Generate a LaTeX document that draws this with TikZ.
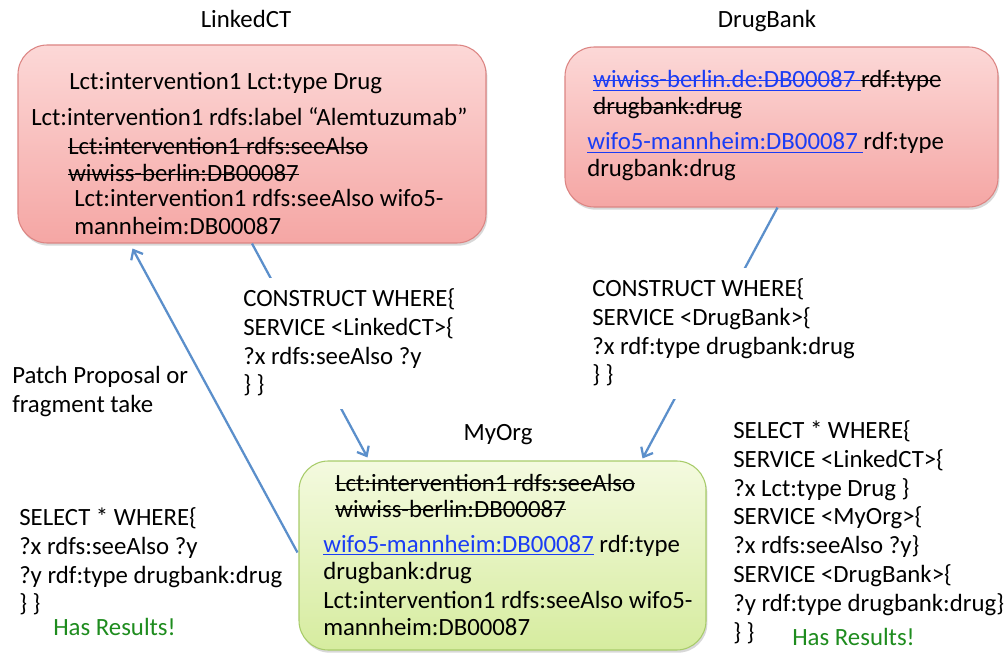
\documentclass[tikz,border=0pt]{standalone}
\usepackage{fontspec}
\setmainfont{Carlito}
\usetikzlibrary{arrows.meta,shadows,calc}
\definecolor{redtop}{HTML}{FCD8D7}
\definecolor{redbot}{HTML}{F5A6A4}
\definecolor{redborder}{HTML}{DC8583}
\definecolor{greentop}{HTML}{F4FADF}
\definecolor{greenbot}{HTML}{D6EC9F}
\definecolor{greenborder}{HTML}{A8CC6A}
\definecolor{arrowblue}{HTML}{5B8FCB}
\definecolor{linkblue}{HTML}{1A3CF5}
\definecolor{okgreen}{HTML}{1E8C1E}
\newsavebox\strkbox
\newsavebox\ulbox
\newcommand\strk[1]{\sbox\strkbox{#1}\rlap{\rule[0.27em]{\wd\strkbox}{1.1pt}}\usebox\strkbox}
\newcommand\ulnk[1]{\sbox\ulbox{#1}\rlap{\rule[-0.14em]{\wd\ulbox}{0.9pt}}\usebox\ulbox}
\newcommand\fs{\fontsize{18.6}{21.6}\selectfont}
\begin{document}
\begin{tikzpicture}[x=0.75pt,y=-0.75pt,
  redbox/.style={draw=redborder, line width=0.8pt, rounded corners=22pt,
    top color=redtop, bottom color=redbot,
    drop shadow={opacity=0.3, shadow xshift=1pt, shadow yshift=-2pt}},
  greenbox/.style={draw=greenborder, line width=0.8pt, rounded corners=22pt,
    top color=greentop, bottom color=greenbot,
    drop shadow={opacity=0.3, shadow xshift=1pt, shadow yshift=-2pt}},
  t/.style={anchor=base west, inner sep=0pt, font=\fs},
  ttl/.style={anchor=base, inner sep=0pt, font=\fs},
  q/.style={anchor=north west, inner sep=0pt, align=left, font=\fs},
  qw/.style={q, fill=white, inner ysep=6pt},
  conn/.style={draw=arrowblue, line width=1.7pt, -{Straight Barb[length=6pt,width=10pt]}}]
\fill[white] (0,0) rectangle (1005,655);
\useasboundingbox (0,0) rectangle (1005,655);

% titles
\node[ttl] (tlct) at (246,28) {LinkedCT};
\node[ttl] (tdb) at (767,28) {DrugBank};
\node[ttl] (torg) at (498,440) {MyOrg};

% boxes
\node[redbox, minimum width=351pt, minimum height=148.5pt] (lct) at (252,144) {};
\node[redbox, minimum width=324.75pt, minimum height=120pt] (db) at (781.5,127) {};
\node[greenbox, minimum width=305.25pt, minimum height=141.75pt] (org) at (502.5,555.5) {};

% LinkedCT content
\node[t] (l1) at (69,90) {Lct:intervention1 Lct:type Drug};
\node[t] (l2) at (31,126) {Lct:intervention1 rdfs:label “Alemtuzumab”};
\node[t] (l3) at (68,155) {\strk{Lct:intervention1 rdfs:seeAlso}};
\node[t] (l4) at (68,182) {\strk{wiwiss-berlin:DB00087}};
\node[t] (l5) at (74,207) {Lct:intervention1 rdfs:seeAlso wifo5-};
\node[t] (l6) at (74,235) {mannheim:DB00087};

% DrugBank content
\node[t] (d1) at (593,88) {{\color{linkblue}\strk{\ulnk{wiwiss-berlin.de:DB00087 }}}\strk{rdf:type}};
\node[t] (d2) at (593,115) {\strk{drugbank:drug}};
\node[t] (d3) at (587,150) {{\color{linkblue}\ulnk{wifo5-mannheim:DB00087 }}rdf:type};
\node[t] (d4) at (587,177) {drugbank:drug};

% MyOrg content
\node[t] (o1) at (335,491) {\strk{Lct:intervention1 rdfs:seeAlso}};
\node[t] (o2) at (335,517) {\strk{wiwiss-berlin:DB00087}};
\node[t] (o3) at (323,552) {{\color{linkblue}\ulnk{wifo5-mannheim:DB00087}} rdf:type};
\node[t] (o4) at (323,579) {drugbank:drug};
\node[t] (o5) at (323,608) {Lct:intervention1 rdfs:seeAlso wifo5-};
\node[t] (o6) at (323,635) {mannheim:DB00087};

% connectors
\draw[conn] (lct.south) -- ($(org.north west)+(69,-3)$);
\draw[conn] ($(db.south)+(-4,0)$) -- ($(org.north east)+(-64,-2)$);
\draw[conn] ($(org.west)+(-1,-3)$) -- ($(lct.south west)+(115,5)$);

% queries
\node[qw] (q1) at (243,278) {\strut CONSTRUCT WHERE\{\\\strut SERVICE <LinkedCT>\{\\\strut ?x rdfs:seeAlso ?y\\\strut \} \}};
\node[qw] (q2) at (592,268) {\strut CONSTRUCT WHERE\{\\\strut SERVICE <DrugBank>\{\\\strut ?x rdf:type drugbank:drug\\\strut \} \}};
\node[q] (patch) at (12,363) {\strut Patch Proposal or\\\strut fragment take};
\node[q] (qleft) at (19,505) {\strut SELECT * WHERE\{\\\strut ?x rdfs:seeAlso ?y\\\strut ?y rdf:type drugbank:drug\\\strut \} \}};
\node[t, text=okgreen] (hr1) at (53,635) {Has Results!};
\node[q] (qright) at (733,418) {\strut SELECT * WHERE\{\\\strut SERVICE <LinkedCT>\{\\\strut ?x Lct:type Drug \}\\\strut SERVICE <MyOrg>\{\\\strut ?x rdfs:seeAlso ?y\}\\\strut SERVICE <DrugBank>\{\\\strut ?y rdf:type drugbank:drug\}\\\strut \} \}};
\node[t, text=okgreen] (hr2) at (792,645) {Has Results!};
\end{tikzpicture}
\end{document}
